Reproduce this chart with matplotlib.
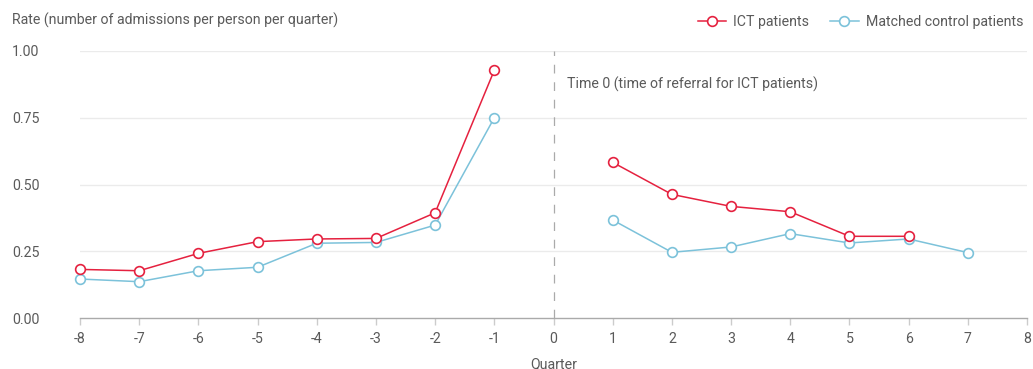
import matplotlib
matplotlib.use("Agg")
import matplotlib.pyplot as plt
from matplotlib.lines import Line2D

plt.rcParams['font.family'] = ['Roboto', 'DejaVu Sans']

quarters_before = [-8, -7, -6, -5, -4, -3, -2, -1]
ict_before = [0.182, 0.177, 0.242, 0.286, 0.296, 0.298, 0.394, 0.928]
ctrl_before = [0.146, 0.136, 0.177, 0.190, 0.280, 0.283, 0.348, 0.750]

ict_q_after = [1, 2, 3, 4, 5, 6]
ict_after = [0.583, 0.463, 0.418, 0.398, 0.306, 0.306]
ctrl_q_after = [1, 2, 3, 4, 5, 6, 7]
ctrl_after = [0.367, 0.246, 0.266, 0.316, 0.281, 0.296, 0.245]

xticks = list(range(-8, 9))
yticks = [0.0, 0.25, 0.5, 0.75, 1.0]
ytick_labels = ["0.00", "0.25", "0.50", "0.75", "1.00"]

RED = "#e5213f"
BLUE = "#7cc2da"
TXT = "#5a5a5a"
FS = 10.2

W, H = 1033, 369
fig = plt.figure(figsize=(W/100, H/100), dpi=100)
ax = fig.add_axes([80/W, 1 - 318/H, (1027-80)/W, (318-51)/H])

ax.set_xlim(-8, 8)
ax.set_ylim(0, 1.0)

for y in yticks[1:]:
    ax.axhline(y, color="#ebebeb", lw=1, zorder=0)

ax.axvline(0, color="#aaaaaa", lw=0.9, ls=(0, (7, 7)), zorder=1)

mk = dict(marker='o', markersize=7, markerfacecolor='white', markeredgewidth=1.2, lw=1.1, clip_on=False)
ax.plot(quarters_before, ctrl_before, color=BLUE, zorder=2, **mk)
ax.plot(ctrl_q_after, ctrl_after, color=BLUE, zorder=2, **mk)
ax.plot(quarters_before, ict_before, color=RED, zorder=3, **mk)
ax.plot(ict_q_after, ict_after, color=RED, zorder=3, **mk)

for s in ['top', 'right', 'left']:
    ax.spines[s].set_visible(False)
ax.spines['bottom'].set_color("#aaaaaa")
ax.spines['bottom'].set_linewidth(1)

ax.set_xticks(xticks)
ax.set_xticklabels([str(x) for x in xticks])
ax.set_yticks(yticks)
ax.set_yticklabels(ytick_labels)
ax.tick_params(axis='x', colors="#cccccc", length=5, width=1, labelcolor=TXT, labelsize=FS, pad=5)
ax.tick_params(axis='y', length=0, labelcolor=TXT, labelsize=FS, pad=49)
for lab in ax.get_yticklabels():
    lab.set_horizontalalignment('left')

ax.set_xlabel("Quarter", color=TXT, fontsize=FS, labelpad=8)

ax.text(0.22, 0.875, "Time 0 (time of referral for ICT patients)", color=TXT, fontsize=FS,
        ha='left', va='center')

fig.text(12/W, 1 - 20/H, "Rate (number of admissions per person per quarter)", color=TXT,
         fontsize=FS, ha='left', va='center')

handles = [Line2D([], [], color=RED, marker='o', markersize=7, markerfacecolor='white', markeredgewidth=1.2, lw=1.1),
           Line2D([], [], color=BLUE, marker='o', markersize=7, markerfacecolor='white', markeredgewidth=1.2, lw=1.1)]
leg = fig.legend(handles, ["ICT patients", "Matched control patients"], loc='center right',
                 bbox_to_anchor=(1036/W, 1 - 22/H), ncol=2, frameon=False, fontsize=FS,
                 handlelength=2.0, handletextpad=0.5, columnspacing=1.5, labelcolor=TXT)

fig.savefig("out.png", dpi=100)
